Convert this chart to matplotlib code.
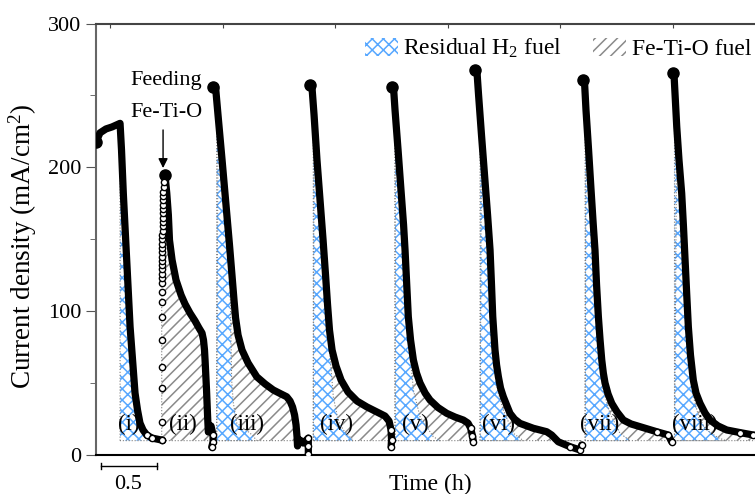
# Chronoamperometry cycles: residual H2 fuel vs Fe-Ti-O fuel
import numpy as np
import matplotlib.pyplot as plt
from matplotlib.patches import Patch
from matplotlib.ticker import MultipleLocator

plt.rcParams['font.family'] = ['Liberation Serif', 'STIXGeneral', 'DejaVu Serif']
plt.rcParams['mathtext.fontset'] = 'custom'
plt.rcParams['mathtext.rm'] = 'Liberation Serif'
plt.rcParams['mathtext.it'] = 'Liberation Serif:italic'
plt.rcParams['hatch.linewidth'] = 1.1

BASE = 10  # bottom of the shaded areas (mA/cm2)
H2_COLOR = '#58a8ff'
FE_COLOR = '#8a8a8a'

# measured current density, time in h
t1 = [-0.124, -0.089, -0.036, 0.018, 0.089, 0.102, 0.118, 0.148, 0.178, 0.222, 0.244, 0.266, 0.293, 0.326, 0.373, 0.459]
j1 = [217.8, 224.0, 226.7, 228.1, 230.6, 212.0, 182.0, 135.6, 89.2, 43.1, 31.3, 22.2, 17.4, 13.9, 11.8, 10.4]

# feeding Fe-Ti-O: points going up
feed_t = [0.459, 0.459, 0.459, 0.459, 0.459, 0.459, 0.459, 0.460,
          0.462, 0.462, 0.462, 0.462, 0.462, 0.463, 0.463, 0.463, 0.464, 0.464, 0.464, 0.465,
          0.466, 0.466, 0.467, 0.467, 0.468, 0.469, 0.470, 0.471, 0.472, 0.473, 0.475, 0.478]
feed_j = [10.4, 22.7, 46.4, 61.4, 80.0, 96.2, 106.6, 113.5,
          119.6, 123, 126, 129, 132, 135, 138, 141, 144, 147, 150, 153,
          156, 159, 162, 165, 168, 171, 174, 177, 180, 183, 186.6, 190]

t2 = [0.488, 0.504, 0.518, 0.528, 0.551, 0.586, 0.631, 0.666, 0.710, 0.755, 0.790, 0.817, 0.830, 0.839, 0.844,
      0.857, 0.866, 0.873, 0.897, 0.915, 0.915, 0.903]
j2 = [194.7, 182.0, 167.0, 149.5, 135.6, 121.7, 111.2, 105.0, 98.7, 93.2, 88.3, 84.8, 80.0, 73.0, 66.0,
      45.2, 27.8, 16.0, 20.2, 13.9, 9.0, 5.6]

t3 = [0.917, 0.937, 0.959, 0.995, 1.030, 1.061, 1.083, 1.101, 1.115, 1.137, 1.172, 1.226, 1.303, 1.377, 1.450,
      1.510, 1.569, 1.599, 1.621, 1.639, 1.652, 1.661, 1.665, 1.687, 1.717, 1.761, 1.761, 1.761]
j3 = [255.6, 255.9, 236.4, 205.1, 173.8, 146.0, 125.1, 107.8, 95.3, 83.4, 73.0, 64.0, 54.4, 49.4, 45.2,
      42.8, 40.5, 37.5, 33.4, 27.8, 20.9, 12.5, 6.3, 10.4, 8.3, 11.8, 6.3, 0.7]

t4 = [1.776, 1.794, 1.812, 1.838, 1.865, 1.892, 1.914, 1.932, 1.949, 1.972, 2.007, 2.052, 2.114, 2.194, 2.282,
      2.371, 2.442, 2.478, 2.496, 2.500, 2.496]
j4 = [257.3, 255.2, 236.4, 205.1, 177.3, 149.5, 125.1, 104.3, 86.9, 73.0, 61.9, 52.1, 43.8, 37.5, 33.4,
      29.9, 27.1, 23.6, 17.4, 10.4, 5.6]

t5 = [2.502, 2.518, 2.531, 2.558, 2.584, 2.607, 2.620, 2.633, 2.649, 2.669, 2.694, 2.722, 2.753, 2.798, 2.842,
      2.913, 2.990, 3.064, 3.138, 3.179, 3.202, 3.219, 3.227]
j5 = [256.1, 255.2, 239.9, 212.1, 184.2, 159.9, 142.5, 121.7, 96.2, 80.0, 66.1, 57.0, 50.1, 43.1, 38.2,
      33.0, 29.0, 26.4, 24.3, 22.2, 18.8, 13.2, 9.0]

t6 = [3.242, 3.259, 3.273, 3.299, 3.326, 3.353, 3.375, 3.388, 3.399, 3.410, 3.419, 3.433, 3.449, 3.468, 3.493,
      3.522, 3.552, 3.592, 3.641, 3.759, 3.878, 3.922, 3.981, 4.085, 4.174, 4.189]
j6 = [267.7, 266.3, 250.3, 222.5, 194.7, 166.9, 142.5, 118.2, 96.2, 83.4, 73.0, 62.6, 54.4, 46.6, 40.5,
      34.8, 29.0, 25.0, 22.0, 18.6, 16.2, 13.9, 9.2, 5.8, 3.5, 7.0]

t7 = [4.201, 4.214, 4.227, 4.250, 4.272, 4.290, 4.307, 4.321, 4.337, 4.352, 4.367, 4.381, 4.396, 4.423, 4.456,
      4.503, 4.559, 4.627, 4.707, 4.855, 4.958, 4.988]
j7 = [260.7, 259.3, 239.9, 212.1, 184.2, 162.0, 142.5, 118.2, 96.2, 80.0, 66.1, 57.0, 50.1, 42.4, 35.9,
      29.9, 24.3, 21.6, 19.7, 16.2, 13.9, 9.2]

t8 = [4.997, 5.009, 5.033, 5.053, 5.077, 5.093, 5.107, 5.122, 5.136, 5.155, 5.180, 5.204, 5.240, 5.284, 5.329,
      5.400, 5.477, 5.595, 5.713, 5.817]
j8 = [265.4, 264.2, 228.3, 205.1, 181.9, 158.5, 135.6, 111.2, 89.2, 69.5, 52.1, 43.1, 35.9, 29.2, 24.3,
      20.2, 17.4, 15.6, 13.9, 12.9]

# right boundary of the residual H2 area of each cycle (first point = top of left edge)
h2_t1 = [0.089, 0.102, 0.118, 0.148, 0.178, 0.222, 0.244, 0.266, 0.293, 0.326, 0.373, 0.459]
h2_j1 = [230.6, 212.0, 182.0, 135.6, 89.2, 43.1, 31.3, 22.2, 17.4, 13.9, 11.8, 10.4]
h2_t3 = [0.947, 0.975, 1.000, 1.030, 1.058, 1.066, 1.080, 1.095, 1.125, 1.243, 1.306]
h2_j3 = [235, 205, 180, 157, 135, 121.7, 52.1, 36.2, 22.2, 15.3, 10]
h2_t4 = [1.805, 1.825, 1.850, 1.875, 1.900, 1.925, 1.950, 1.983, 2.025, 2.072, 2.161]
h2_j4 = [240, 215, 185, 155, 125, 100, 73, 40.5, 24.3, 17.4, 10]
h2_t5 = [2.531, 2.555, 2.580, 2.600, 2.620, 2.640, 2.660, 2.694, 2.753, 2.871, 2.931]
h2_j5 = [235, 205, 180, 155, 132, 100, 75, 45.2, 26.6, 12.7, 10]
h2_t6 = [3.286, 3.310, 3.335, 3.355, 3.372, 3.390, 3.410, 3.440, 3.493, 3.582, 3.671]
h2_j6 = [225, 200, 175, 150, 125, 100, 75, 45.2, 31.3, 15.1, 10]
h2_t7 = [4.219, 4.240, 4.262, 4.282, 4.300, 4.318, 4.335, 4.360, 4.381, 4.440, 4.529, 4.618]
h2_j7 = [240, 212, 185, 160, 135, 110, 80, 60, 45.2, 29, 15.1, 10]
h2_t8 = [5.013, 5.035, 5.055, 5.075, 5.095, 5.112, 5.128, 5.140, 5.160, 5.19, 5.23, 5.29, 5.40, 5.47]
h2_j8 = [245, 220, 195, 175, 150, 120, 95, 75, 55, 38, 26, 18, 12, 10]

cycle_labels = ['(i)', '(ii)', '(iii)', '(iv)', '(v)', '(vi)', '(vii)', '(viii)']
label_t = [0.163, 0.651, 1.214, 2.013, 2.709, 3.446, 4.352, 5.195]
label_j = 21


def shade(ax, xs, ys, color, hatch):
    xs = [xs[0]] + list(xs) + [xs[-1]]
    ys = [BASE] + list(np.maximum(ys, BASE)) + [BASE]
    ax.fill(xs, ys, facecolor='white', edgecolor=color, hatch=hatch, linewidth=0, zorder=1)
    ax.plot(xs + [xs[0]], ys + [ys[0]], ls=':', color='#808080', lw=0.8, zorder=1.5)


def curve(ax, t, j):
    ax.plot(t, j, color='black', lw=5.2, solid_capstyle='round', solid_joinstyle='round', zorder=4)
    ax.plot(t[0], j[0], 'o', ms=8, color='black', zorder=4)
    ax.plot(t[-3:], j[-3:], 'o', ms=4.5, mfc='white', mec='black', mew=1, zorder=4)


fig = plt.figure(figsize=(7.55, 4.94), dpi=100)
ax = fig.add_axes([0.1272, 0.0789, 0.8728, 0.8735])

cycles = [(t1, j1), (t2, j2), (t3, j3), (t4, j4), (t5, j5), (t6, j6), (t7, j7), (t8, j8)]
h2 = [(h2_t1, h2_j1), None, (h2_t3, h2_j3), (h2_t4, h2_j4), (h2_t5, h2_j5),
      (h2_t6, h2_j6), (h2_t7, h2_j7), (h2_t8, h2_j8)]

# Fe-Ti-O areas (whole area under the curve), then H2 areas on top
shade(ax, feed_t + t2, feed_j + j2, FE_COLOR, '///')
for (t, j), b in zip(cycles[2:], h2[2:]):
    t = np.array(t)
    j = np.array(j)
    keep = t >= b[0][0]
    shade(ax, [b[0][0]] + list(t[keep]), [BASE] + list(j[keep]), FE_COLOR, '///')
for b in h2:
    if b is not None:
        shade(ax, b[0], b[1], H2_COLOR, 'xxx')

for lab, lt in zip(cycle_labels, label_t):
    ax.text(lt, label_j, lab, fontsize=16.5, ha='center', va='center', zorder=2)

for t, j in cycles:
    curve(ax, t, j)
ax.plot(feed_t, feed_j, 'o', ms=4.5, mfc='white', mec='black', mew=1, zorder=4)

# feeding annotation
ax.text(0.497, 260.7, 'Feeding', fontsize=16, ha='center', va='center')
ax.text(0.497, 237.8, 'Fe-Ti-O', fontsize=16, ha='center', va='center')
ax.annotate('', xy=(0.471, 199.5), xytext=(0.471, 226),
            arrowprops=dict(arrowstyle='-|>', color='black', lw=1, shrinkA=0, shrinkB=0, mutation_scale=14))

# scale bar instead of tick labels
ax.plot([-0.08, 0.42], [-7.6, -7.6], color='black', lw=1, clip_on=False)
ax.plot([-0.08, -0.08], [-5.5, -9.7], color='black', lw=1, clip_on=False)
ax.plot([0.42, 0.42], [-5.5, -9.7], color='black', lw=1, clip_on=False)
fig.text(128 / 755, 1 - 484 / 494, '0.5', fontsize=16, ha='center', va='center')

ax.set_xlim(-0.1243, 5.728)
ax.set_ylim(0, 300)
ax.yaxis.set_major_locator(MultipleLocator(100))
ax.yaxis.set_minor_locator(MultipleLocator(50))
ax.set_xticks([0, 1, 2, 3, 4, 5])
ax.tick_params(axis='x', bottom=False, top=True, labelbottom=False, direction='in', length=3, color='#444444')
ax.tick_params(axis='y', which='major', direction='out', length=7, labelsize=16, color='#555555')
ax.tick_params(axis='y', which='minor', direction='out', length=4, color='#555555')
ax.spines['right'].set_visible(False)
ax.spines['left'].set_color('#666666')
ax.spines['left'].set_linewidth(1.5)
ax.spines['top'].set_color('#444444')
ax.spines['top'].set_linewidth(1.5)
ax.spines['bottom'].set_linewidth(1.5)

fig.text(23 / 755, 1 - 246 / 494, 'Current density (mA/cm$^2$)', fontsize=19.5, rotation=90,
         ha='center', va='center')
fig.text(430 / 755, 1 - 484 / 494, 'Time (h)', fontsize=17, ha='center', va='center')

handles = [Patch(facecolor='white', edgecolor=H2_COLOR, hatch='xxx', lw=0),
           Patch(facecolor='white', edgecolor=FE_COLOR, hatch='///', lw=0)]
ax.legend(handles, ['Residual H$_2$ fuel', 'Fe-Ti-O fuel'], ncol=2, frameon=False, fontsize=17,
          loc='upper right', bbox_to_anchor=(1.009, 0.991), borderaxespad=0,
          handlelength=1.4, handleheight=0.8, handletextpad=0.25, columnspacing=1.3)

fig.savefig('out.png', dpi=100)
